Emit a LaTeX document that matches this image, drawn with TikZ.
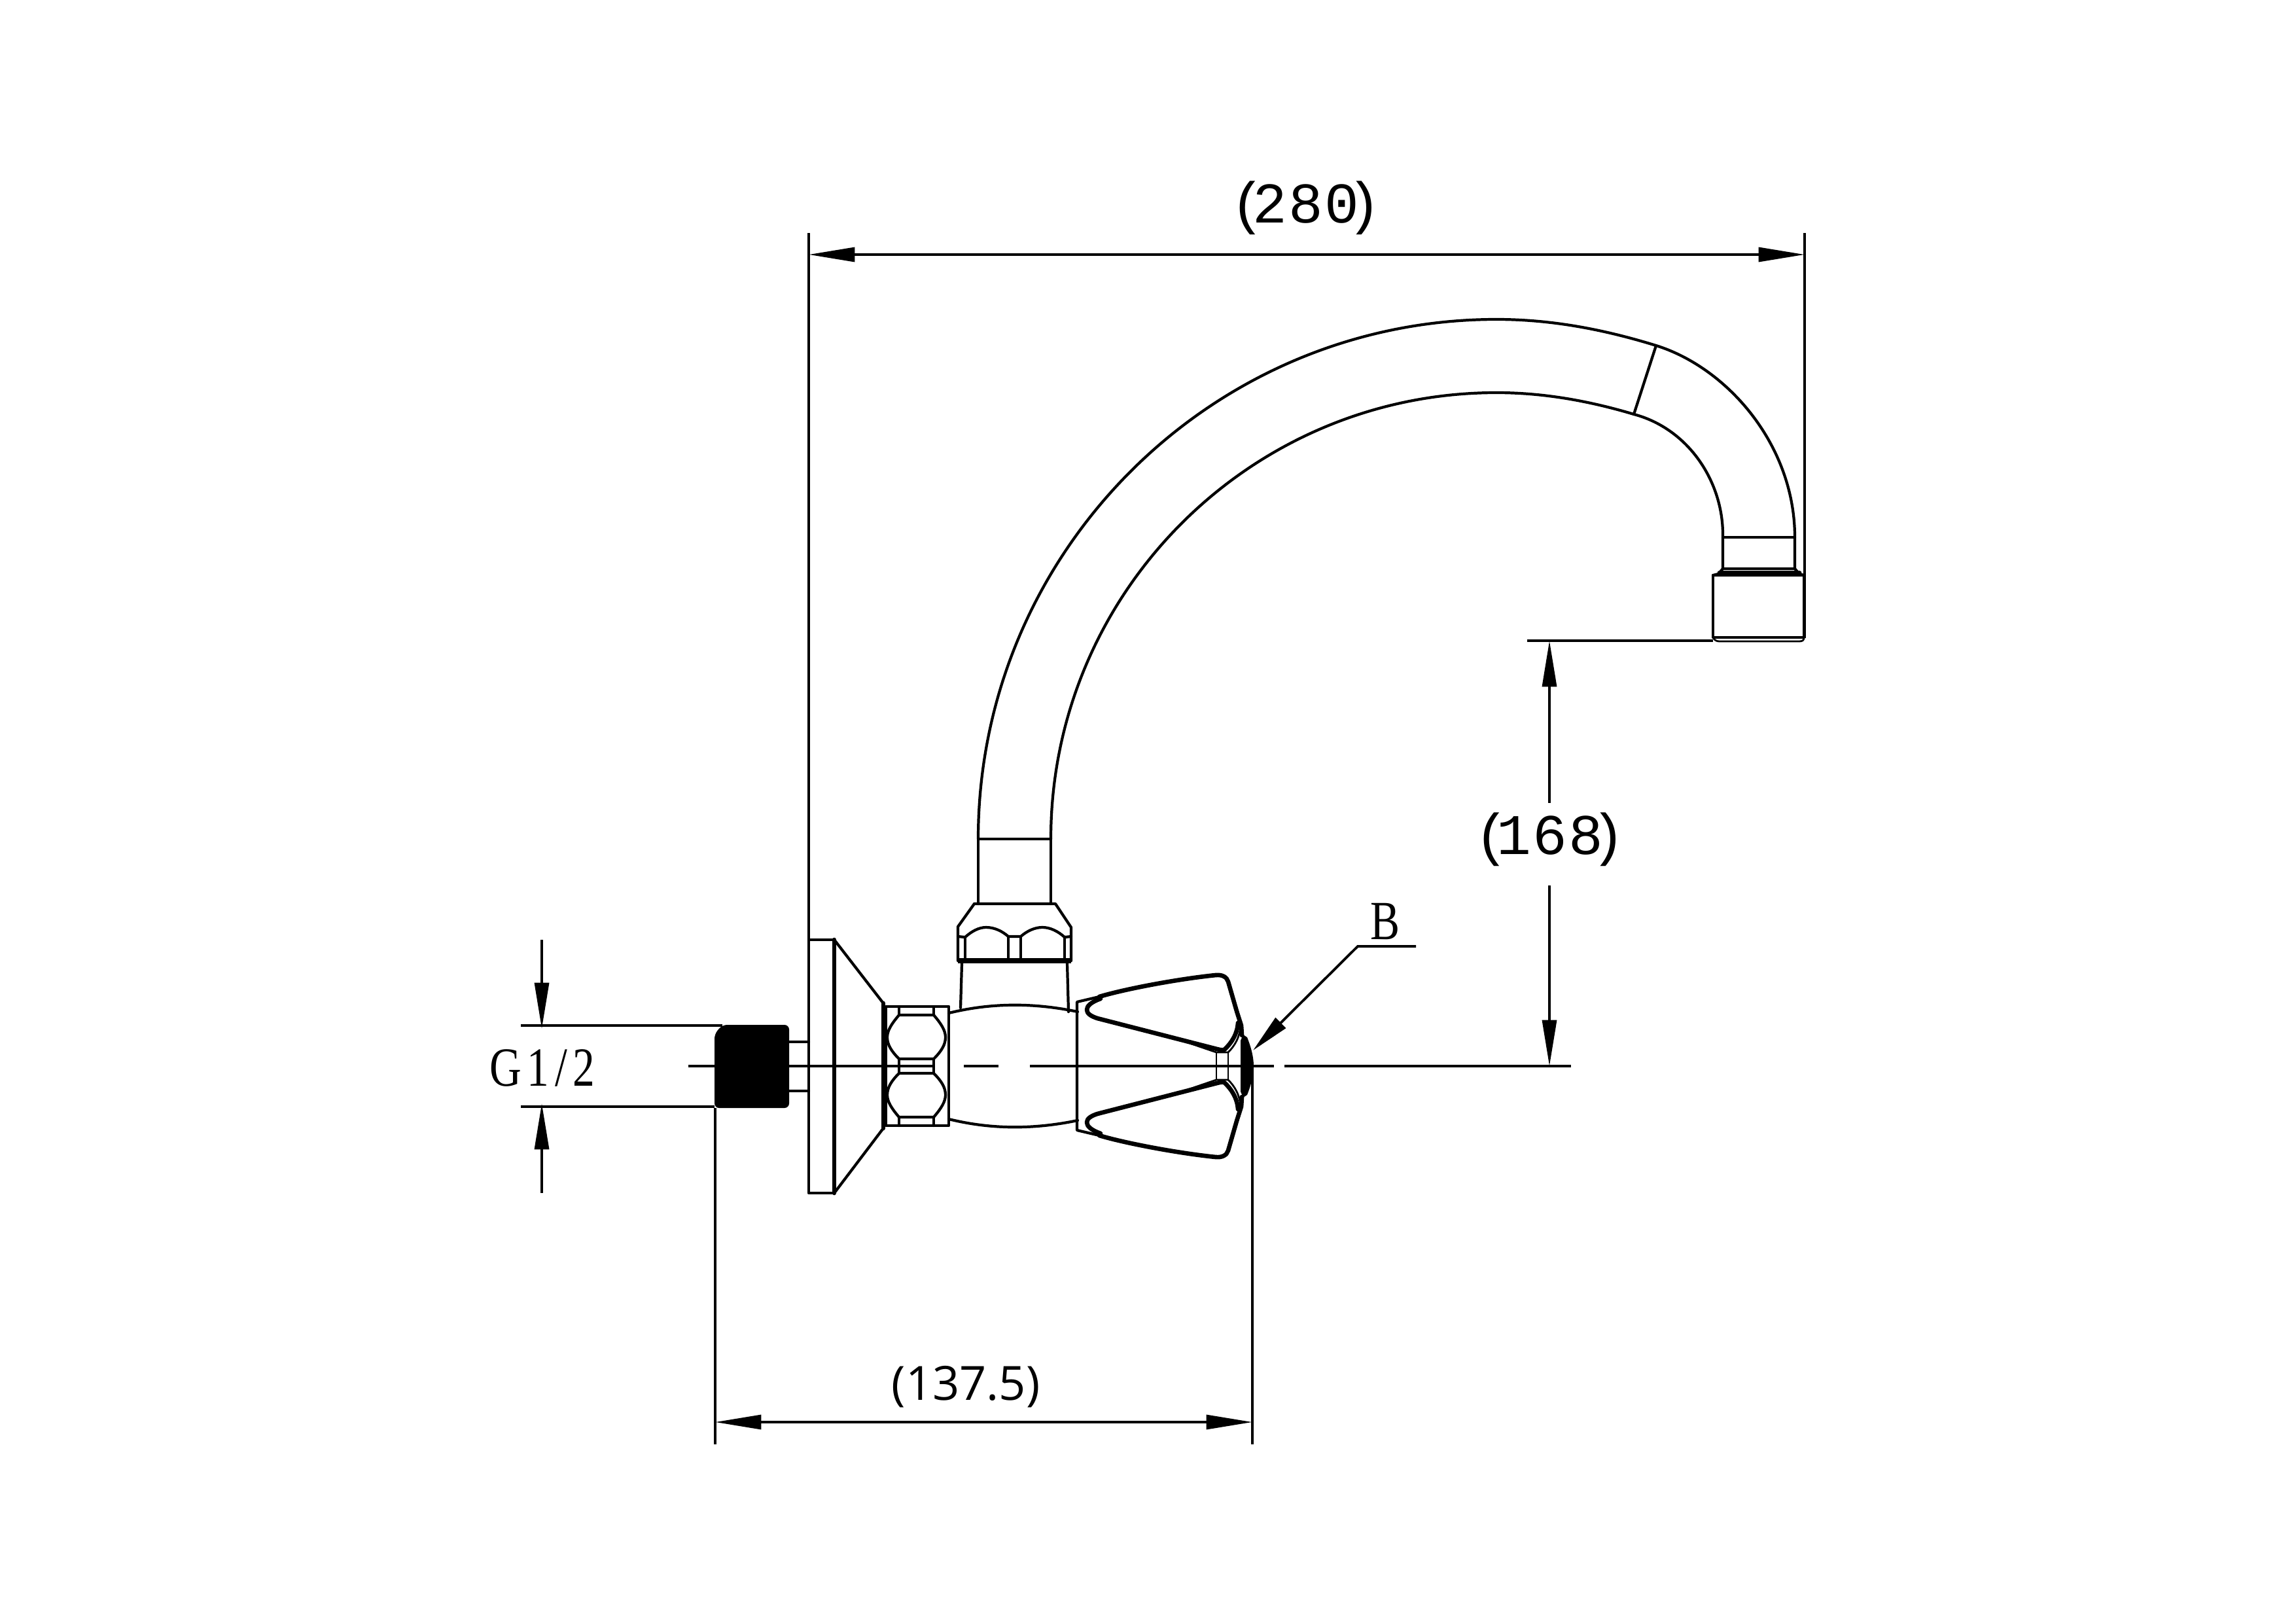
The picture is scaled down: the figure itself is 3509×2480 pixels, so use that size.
\documentclass[tikz,border=0pt]{standalone}
\usepackage{fontspec}
\newfontfamily\shxfont[LetterSpace=3]{Liberation Mono}
\newfontfamily\dimsans{Open Sans}
\newfontfamily\dimserif[FakeStretch=0.8,LetterSpace=10]{Liberation Serif}
\usetikzlibrary{arrows.meta}
\tikzset{>={Triangle[length=20pt,width=6.2pt]}}
\tikzset{
  part/.style={line width=1.2pt,line join=round,line cap=round},
  heavy/.style={line width=1.9pt,line join=round,line cap=round},
  fine/.style={line width=0.8pt,line join=round},
  dimline/.style={line width=1.1pt},
  shxlabel/.style={inner sep=0pt,font=\shxfont\fontsize{25}{30}\selectfont},
  sanslabel/.style={inner sep=0pt,font=\dimsans\fontsize{20.5}{25}\selectfont},
  seriflabel/.style={inner sep=0pt,font=\dimserif\fontsize{24}{28}\selectfont},
}
\begin{document}
\begin{tikzpicture}[x=0.1mm,y=-0.1mm]
  \useasboundingbox (0,0) rectangle (3509,2480);

  % Spout
  \draw[part] (1495,1282) .. controls (1495,845) and (1850,488) .. (2287,488)
    .. controls (2370,488) and (2450,503) .. (2531,528)
    .. controls (2640,562) and (2743,680) .. (2743,821) -- (2743,869);
  \draw[part] (1606,1282) .. controls (1606,906) and (1911,600) .. (2287,600)
    .. controls (2360,600) and (2430,613) .. (2497,633)
    .. controls (2580,655) and (2633,735) .. (2633,817) -- (2633,869);
  \draw[part] (2531,528) -- (2497,633);
  \draw[part] (2633,821) -- (2743,821);
  \draw[part] (2633,869) -- (2743,869);
  \draw[heavy] (2628,875) -- (2750,875);
  \draw[part] (2633,869) -- (2626,877) -- (2618,879);
  \draw[part] (2743,869) -- (2750,877) -- (2757,879);
  \draw[part] (2618,879) -- (2757,879) -- (2757,974) -- (2618,974) -- cycle;
  \draw[fine] (2618,974) .. controls (2620,978) and (2623,980) .. (2628,980) -- (2750,980)
    .. controls (2755,980) and (2757,978) .. (2757,974);

  % Upper nut
  \draw[part] (1495,1282) -- (1606,1282);
  \draw[part] (1495,1282) -- (1495,1381);
  \draw[part] (1606,1282) -- (1606,1381);
  \draw[part] (1489,1381) -- (1613,1381) -- (1637,1417) -- (1637,1468);
  \draw[part] (1489,1381) -- (1464,1416) -- (1464,1468);
  \draw[part] (1464,1431) -- (1475,1432) .. controls (1485,1423) and (1496,1417) .. (1507,1417)
    .. controls (1520,1417) and (1532,1423) .. (1541,1431) -- (1560,1431)
    .. controls (1569,1423) and (1581,1417) .. (1593,1417)
    .. controls (1605,1417) and (1617,1423) .. (1627,1432) -- (1637,1431);
  \draw[part] (1475,1432) -- (1475,1464);
  \draw[part] (1541,1431) -- (1541,1464);
  \draw[part] (1560,1431) -- (1560,1464);
  \draw[part] (1627,1432) -- (1627,1464);
  \draw[line width=2.2pt] (1464,1468) -- (1637,1468);
  \draw[part] (1470,1472) -- (1468,1540);
  \draw[part] (1631,1472) -- (1633,1546);

  % Wall plate and thread
  \draw[part] (1236,1436) rectangle (1275,1823);
  \draw[heavy] (1275,1436) -- (1275,1823);
  \draw[part] (1275,1436) -- (1350,1533);
  \draw[part] (1275,1823) -- (1350,1724);
  \draw[heavy] (1350,1533) -- (1350,1724);
  \draw[part] (1206,1592) -- (1236,1592);
  \draw[part] (1206,1667) -- (1236,1667);
  \fill[black,rounded corners=2pt] (1092,1580) -- (1104,1566) -- (1206,1566) -- (1206,1693) -- (1092,1693) -- cycle;

  % Mirrored halves of hex nut, body and knob
  \foreach \flip/\offs in {1/0,-1/3258}{
    \begin{scope}[shift={(0,\offs)},yscale=\flip]
      \draw[part] (1354,1629) -- (1354,1538) -- (1450,1538) -- (1450,1629);
      \draw[part] (1374,1538) -- (1374,1551);
      \draw[part] (1427,1538) -- (1427,1551);
      \draw[part] (1374,1618) -- (1374,1629);
      \draw[part] (1427,1618) -- (1427,1629);
      \draw[part] (1374,1551) -- (1427,1551) .. controls (1439,1565) and (1445,1575) .. (1445,1585)
        .. controls (1445,1596) and (1439,1606) .. (1427,1618) -- (1374,1618)
        .. controls (1362,1606) and (1356,1596) .. (1356,1585)
        .. controls (1356,1575) and (1362,1565) .. (1374,1551);
      \draw[part] (1450,1548) .. controls (1515,1532) and (1580,1532) .. (1647,1546);
      \draw[part] (1646,1629) -- (1646,1531) -- (1680,1523);
      \draw[heavy] (1680,1523) .. controls (1720,1511) and (1800,1496) .. (1858,1490)
        .. controls (1868,1489) and (1875,1493) .. (1877,1500) -- (1890,1545) -- (1897,1567) -- (1898,1582);
      \draw[heavy] (1682,1526) .. controls (1668,1531) and (1661,1537) .. (1661,1543)
        .. controls (1661,1549) and (1668,1553) .. (1677,1556) -- (1860,1603)
        .. controls (1864,1604) and (1868,1605) .. (1871,1604)
        .. controls (1882,1594) and (1891,1580) .. (1892,1563);
      \draw[fine] (1780,1581) -- (1859,1608) -- (1877,1608)
        .. controls (1887,1598) and (1895,1585) .. (1896,1566);
      \draw[fine] (1859,1608) -- (1859,1629);
      \draw[fine] (1877,1608) -- (1877,1629);
    \end{scope}
  }
  \fill[black] (1896,1590) -- (1900,1581) -- (1906,1585) .. controls (1912,1600) and (1916,1615) .. (1916,1629)
    .. controls (1916,1643) and (1912,1658) .. (1906,1673) -- (1900,1677) -- (1896,1668) -- cycle;

  % Centre line
  \draw[dimline] (1052,1629) -- (1426,1629);
  \draw[dimline] (1473,1629) -- (1526,1629);
  \draw[dimline] (1574,1629) -- (1947,1629);
  \draw[dimline] (1963,1629) -- (2401,1629);

  % Nodes
  \node[shxlabel] (width)  at (1996,318)  {(\kern-0.22em 280\kern-0.22em)};
  \node[shxlabel] (height) at (2369,1283) {(\kern-0.22em 168\kern-0.22em)};
  \node[sanslabel] (reach) at (1476,2119) {(137.5)};
  \node[seriflabel] (thread) at (829,1632) {G1/2};
  \node[seriflabel] (knob)   at (2117,1408) {B};

  \coordinate (wallt) at (1236,356);
  \coordinate (wallb) at (1236,1436);
  \coordinate (spoutt) at (2758,356);
  \coordinate (spoutb) at (2758,975);
  \coordinate (widthl) at (1236,389);
  \coordinate (widthr) at (2758,389);
  \coordinate (outletl) at (2334,979);
  \coordinate (outletr) at (2618,979);
  \coordinate (heightt) at (2368,979);
  \coordinate (heighta) at (2368,1227);
  \coordinate (heightb) at (2368,1353);
  \coordinate (heightc) at (2368,1629);
  \coordinate (threadl) at (1093,1693);
  \coordinate (threadb) at (1093,2207);
  \coordinate (knobr) at (1914,1629);
  \coordinate (knobb) at (1914,2207);
  \coordinate (reachl) at (1093,2173);
  \coordinate (reachr) at (1914,2173);
  \coordinate (topa) at (796,1567);
  \coordinate (topb) at (1104,1567);
  \coordinate (bota) at (796,1691);
  \coordinate (botb) at (1092,1691);
  \coordinate (arrta) at (828,1436);
  \coordinate (arrtb) at (828,1572);
  \coordinate (arrba) at (828,1823);
  \coordinate (arrbb) at (828,1686);
  \coordinate (leada) at (2164,1446);
  \coordinate (leadb) at (2075,1446);
  \coordinate (leadc) at (1915,1605);

  % Edges
  \draw[dimline] (wallt) -- (wallb);
  \draw[dimline] (spoutt) -- (spoutb);
  \draw[dimline,<->] (widthl) -- (widthr);
  \draw[dimline] (outletl) -- (outletr);
  \draw[dimline,<-] (heightt) -- (heighta);
  \draw[dimline,->] (heightb) -- (heightc);
  \draw[dimline] (threadl) -- (threadb);
  \draw[dimline] (knobr) -- (knobb);
  \draw[dimline,<->] (reachl) -- (reachr);
  \draw[dimline] (topa) -- (topb);
  \draw[dimline] (bota) -- (botb);
  \draw[dimline,->] (arrta) -- (arrtb);
  \draw[dimline,->] (arrba) -- (arrbb);
  \draw[dimline,->,>={Triangle[length=17pt,width=6.2pt]}] (leada) -- (leadb) -- (leadc);

\end{tikzpicture}
\end{document}
